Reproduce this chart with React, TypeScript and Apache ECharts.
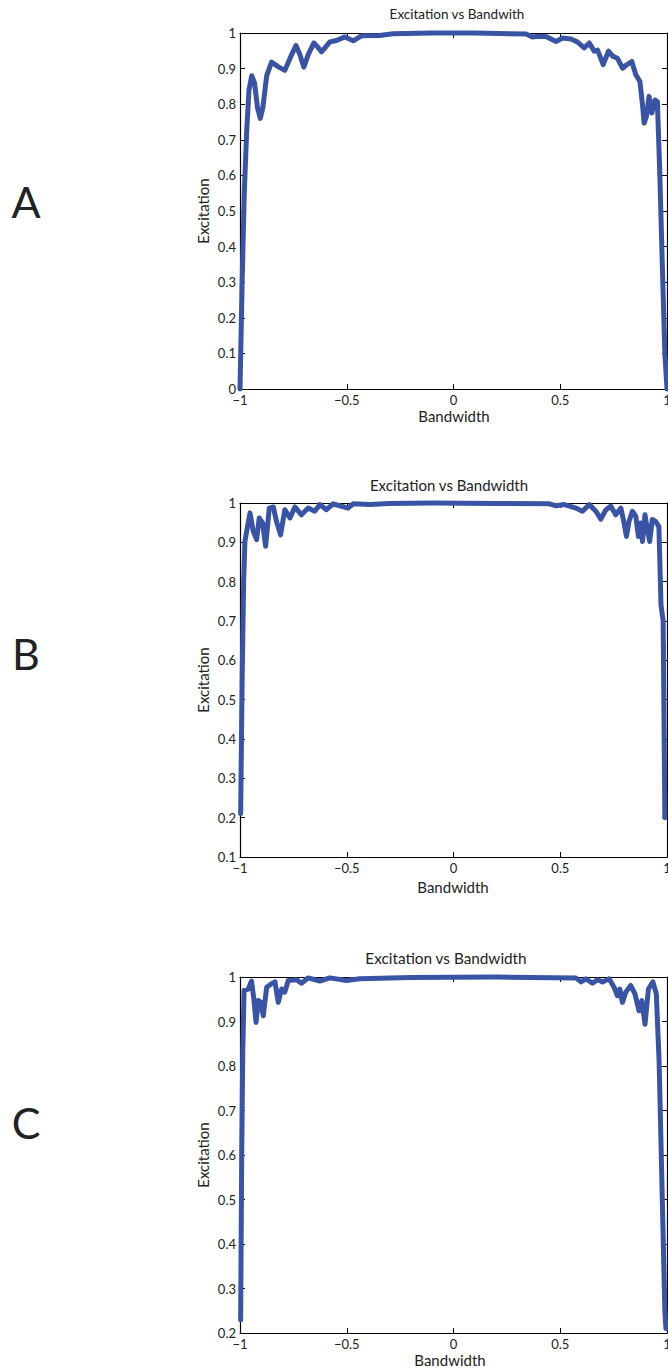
import React, { useEffect, useRef } from "react";
import * as echarts from "echarts";

const panelLabels = ["A", "B", "C"];
const titleTexts = ["Excitation vs Bandwith", "Excitation vs Bandwidth", "Excitation vs Bandwidth"];
const xName = "Bandwidth";
const yName = "Excitation";
const xTickMin = -1;
const xTickMax = 1;
const xTickStep = 0.5;
const yMins = [0, 0.1, 0.2];
const yMax = 1;
const yStep = 0.1;

const seriesA: [number, number][] = [
  [-1, 0], [-0.99, 0.3], [-0.98, 0.55], [-0.969, 0.72], [-0.958, 0.84], [-0.945, 0.88],
  [-0.932, 0.86], [-0.918, 0.79], [-0.905, 0.76], [-0.893, 0.79], [-0.875, 0.88],
  [-0.852, 0.918], [-0.82, 0.905], [-0.79, 0.895], [-0.765, 0.93], [-0.738, 0.965],
  [-0.72, 0.94], [-0.701, 0.904], [-0.68, 0.94], [-0.654, 0.972], [-0.635, 0.96],
  [-0.618, 0.947], [-0.579, 0.975], [-0.548, 0.979], [-0.509, 0.989], [-0.47, 0.978],
  [-0.431, 0.992], [-0.346, 0.993], [-0.284, 0.998], [-0.1, 1.0], [0.1, 1.0],
  [0.34, 0.997], [0.369, 0.989], [0.4, 0.991], [0.433, 0.99], [0.48, 0.976],
  [0.511, 0.986], [0.55, 0.983], [0.58, 0.975], [0.612, 0.958], [0.636, 0.972],
  [0.659, 0.949], [0.675, 0.952], [0.701, 0.911], [0.726, 0.949], [0.745, 0.935],
  [0.768, 0.929], [0.792, 0.901], [0.81, 0.91], [0.835, 0.92], [0.854, 0.883],
  [0.873, 0.864], [0.885, 0.8], [0.893, 0.747], [0.904, 0.766], [0.916, 0.822],
  [0.929, 0.775], [0.944, 0.812], [0.955, 0.807], [0.966, 0.61], [0.978, 0.35],
  [0.99, 0.1], [1, 0],
];

const seriesB: [number, number][] = [
  [-0.997, 0.21], [-0.99, 0.55], [-0.983, 0.8], [-0.977, 0.902], [-0.965, 0.94],
  [-0.953, 0.975], [-0.938, 0.928], [-0.922, 0.907], [-0.91, 0.962], [-0.894, 0.949],
  [-0.88, 0.89], [-0.863, 0.987], [-0.844, 0.99], [-0.829, 0.953], [-0.81, 0.919],
  [-0.79, 0.983], [-0.766, 0.962], [-0.743, 0.99], [-0.712, 0.97], [-0.681, 0.987],
  [-0.65, 0.979], [-0.626, 0.996], [-0.595, 0.983], [-0.564, 0.998], [-0.533, 0.993],
  [-0.494, 0.987], [-0.47, 0.998], [-0.392, 0.996], [-0.3, 0.999], [-0.1, 1.0],
  [0.2, 0.999], [0.449, 0.998], [0.48, 0.993], [0.52, 0.996], [0.573, 0.987],
  [0.604, 0.979], [0.636, 0.996], [0.667, 0.979], [0.69, 0.959], [0.714, 0.983],
  [0.737, 0.992], [0.76, 0.97], [0.784, 0.987], [0.799, 0.949], [0.81, 0.915],
  [0.822, 0.953], [0.838, 0.979], [0.854, 0.966], [0.866, 0.915], [0.877, 0.949],
  [0.885, 0.902], [0.897, 0.97], [0.908, 0.932], [0.919, 0.902], [0.931, 0.958],
  [0.947, 0.953], [0.962, 0.94], [0.972, 0.74], [0.982, 0.7], [0.99, 0.2],
];

const seriesC: [number, number][] = [
  [-0.997, 0.229], [-0.992, 0.6], [-0.987, 0.833], [-0.981, 0.97], [-0.961, 0.973],
  [-0.946, 0.991], [-0.935, 0.95], [-0.925, 0.898], [-0.914, 0.947], [-0.903, 0.943],
  [-0.891, 0.913], [-0.875, 0.977], [-0.852, 0.985], [-0.836, 0.989], [-0.821, 0.943],
  [-0.805, 0.973], [-0.79, 0.966], [-0.774, 0.992], [-0.735, 0.994], [-0.712, 0.986],
  [-0.681, 0.998], [-0.626, 0.991], [-0.579, 0.998], [-0.502, 0.992], [-0.44, 0.996],
  [-0.2, 0.999], [0.2, 1.0], [0.573, 0.998], [0.597, 0.989], [0.62, 0.996],
  [0.651, 0.986], [0.675, 0.994], [0.698, 0.989], [0.729, 0.996], [0.752, 0.977],
  [0.768, 0.958], [0.779, 0.973], [0.791, 0.943], [0.807, 0.966], [0.83, 0.981],
  [0.85, 0.962], [0.869, 0.924], [0.882, 0.947], [0.897, 0.894], [0.913, 0.973],
  [0.934, 0.989], [0.95, 0.962], [0.963, 0.811], [0.978, 0.5], [0.99, 0.25],
  [0.995, 0.21],
];

const allSeries = [seriesA, seriesB, seriesC];

const FONT = "Lato, 'Liberation Sans', sans-serif";
const LINE_COLOR = "#3a54a5";

const grids = [
  { top: 33, height: 356 },
  { top: 503, height: 354 },
  { top: 977, height: 356 },
];
const GRID_LEFT = 240;
const GRID_WIDTH = 427;

function fmtX(v: number) {
  if (v === 0) return "0";
  const s = String(Math.abs(v));
  return v < 0 ? "\u2212" + s : s;
}
function fmtY(v: number) {
  return String(parseFloat(v.toFixed(1)));
}

export default function App() {
  const ref = useRef<HTMLDivElement>(null);
  useEffect(() => {
    if (!ref.current) return;
    const chart = echarts.init(ref.current, undefined, { renderer: "svg" });
    const gridOpts = grids.map((g) => ({
      left: GRID_LEFT,
      width: GRID_WIDTH,
      top: g.top,
      height: g.height,
      containLabel: false,
      outerBoundsMode: "none",
    }));
    const xAxes: any[] = [];
    const yAxes: any[] = [];
    const series: any[] = [];
    const tickStyle = { show: true, inside: true, length: 5, lineStyle: { color: "#000", width: 1 } };
    const axisLine = { show: true, onZero: false, lineStyle: { color: "#000", width: 1.2 } };
    grids.forEach((g, i) => {
      xAxes.push({
        type: "value", gridIndex: i, min: xTickMin, max: xTickMax, interval: xTickStep,
        position: "bottom", axisLine, axisTick: tickStyle, splitLine: { show: false },
        axisLabel: { show: true, margin: 4, fontSize: 13, color: "#222", fontFamily: FONT, formatter: fmtX },
      });
      xAxes.push({
        type: "value", gridIndex: i, min: xTickMin, max: xTickMax, interval: xTickStep,
        position: "top", axisLine, axisTick: tickStyle, splitLine: { show: false },
        axisLabel: { show: false },
      });
      yAxes.push({
        type: "value", gridIndex: i, min: yMins[i], max: yMax, interval: yStep,
        position: "left", axisLine, axisTick: tickStyle, splitLine: { show: false },
        axisLabel: { show: true, margin: 4, fontSize: 13, color: "#222", fontFamily: FONT, formatter: fmtY },
      });
      yAxes.push({
        type: "value", gridIndex: i, min: yMins[i], max: yMax, interval: yStep,
        position: "right", axisLine, axisTick: tickStyle, splitLine: { show: false },
        axisLabel: { show: false },
      });
      series.push({
        type: "line", xAxisIndex: i * 2, yAxisIndex: i * 2, data: allSeries[i],
        showSymbol: false, symbol: "none", clip: false, smooth: false,
        lineStyle: { color: LINE_COLOR, width: 5, join: "round", cap: "round" },
        z: 5,
      });
    });
    const titleYs = [14, 485, 958];
    const titleXs = [457, 449, 446];
    const titleSizes = [13.5, 15, 15.3];
    const letterYs = [201, 653, 1122];
    const xNameYs = [416, 887, 1360];
    const xNameXs = [454, 453, 450];
    const graphics: any[] = [];
    grids.forEach((g, i) => {
      graphics.push({
        type: "text", x: titleXs[i], y: titleYs[i],
        style: { text: titleTexts[i], font: `${titleSizes[i]}px ${FONT}`, fill: "#222", textAlign: "center", textVerticalAlign: "middle" },
      });
      graphics.push({
        type: "text", x: 26, y: letterYs[i],
        style: { text: panelLabels[i], font: `43px ${FONT}`, fill: "#222", textAlign: "center", textVerticalAlign: "middle" },
      });
      graphics.push({
        type: "text", x: xNameXs[i], y: xNameYs[i],
        style: { text: xName, font: `15px ${FONT}`, fill: "#222", textAlign: "center", textVerticalAlign: "middle" },
      });
      graphics.push({
        type: "text", x: 203, y: g.top + g.height / 2, rotation: Math.PI / 2,
        style: { text: yName, font: `15px ${FONT}`, fill: "#222", textAlign: "center", textVerticalAlign: "middle" },
      });
    });
    chart.setOption({
      animation: false,
      backgroundColor: "#fff",
      grid: gridOpts,
      xAxis: xAxes,
      yAxis: yAxes,
      series,
      graphic: graphics,
    });
    return () => chart.dispose();
  }, []);
  return (
    <div
      ref={ref}
      style={{ position: "absolute", left: 0, top: 0, width: 668, height: 1370 }}
    />
  );
}
